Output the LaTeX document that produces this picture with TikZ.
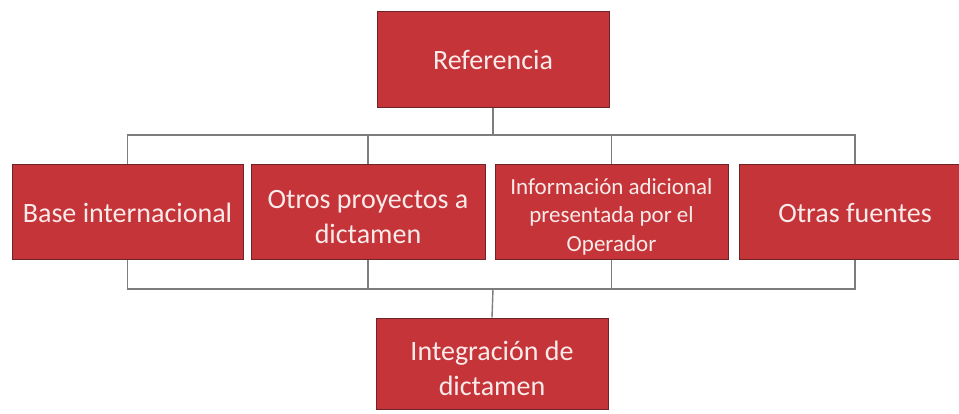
\documentclass[tikz,border=0pt]{standalone}
\usepackage{fontspec}
\setmainfont{Carlito}
\definecolor{boxred}{RGB}{197,52,56}
\definecolor{boxedge}{RGB}{110,35,38}
\definecolor{linegray}{RGB}{125,125,125}
\definecolor{txt}{RGB}{250,235,235}
\begin{document}
\begin{tikzpicture}[x=1pt,y=-1pt,
  redbox/.style={draw=boxedge,line width=1pt,fill=boxred,inner sep=0pt,anchor=center},
  boxtext/.style={text=txt,align=center,inner sep=0pt,anchor=center,font=\fontsize{28}{35}\selectfont},
  smalltext/.style={boxtext,font=\fontsize{23}{28.5}\selectfont},
  link/.style={draw=linegray,line width=1.4pt}]
\useasboundingbox (0,0) rectangle (959,413);
\node[redbox,minimum width=232pt,minimum height=96pt] (ref) at (493,59) {};
\node[redbox,minimum width=231pt,minimum height=95pt] (base) at (127.5,211.5) {};
\node[redbox,minimum width=234pt,minimum height=95pt] (otros) at (368,211.5) {};
\node[redbox,minimum width=233pt,minimum height=95pt] (info) at (611.5,211.5) {};
\node[redbox,minimum width=232pt,minimum height=95pt] (fuentes) at (855,211.5) {};
\node[redbox,minimum width=232pt,minimum height=91pt] (integ) at (492,363.5) {};
\node[boxtext] (ref-t) at ([yshift=-1pt]ref.center) {Referencia};
\node[boxtext] (base-t) at ([yshift=-1pt]base.center) {Base internacional};
\node[boxtext] (otros-t) at ([yshift=-6pt]otros.center) {Otros proyectos a\\dictamen};
\node[smalltext] (info-t) at ([yshift=-5pt]info.center) {Información adicional\\presentada por el\\Operador};
\node[boxtext] (fuentes-t) at ([yshift=-1pt]fuentes.center) {Otras fuentes};
\node[boxtext] (integ-t) at ([yshift=-5pt]integ.center) {Integración de\\dictamen};
\coordinate (tj) at (493,135);
\coordinate (bj) at (493,289);
\draw[link] (ref.south) -- (tj);
\draw[link] (base.north) -- (base.north |- tj) -- (fuentes.north |- tj) -- (fuentes.north);
\draw[link] (otros.north) -- (otros.north |- tj);
\draw[link] (info.north) -- (info.north |- tj);
\draw[link] (base.south) -- (base.south |- bj) -- (fuentes.south |- bj) -- (fuentes.south);
\draw[link] (otros.south) -- (otros.south |- bj);
\draw[link] (info.south) -- (info.south |- bj);
\draw[link] (bj) -- (integ.north);
\end{tikzpicture}
\end{document}
